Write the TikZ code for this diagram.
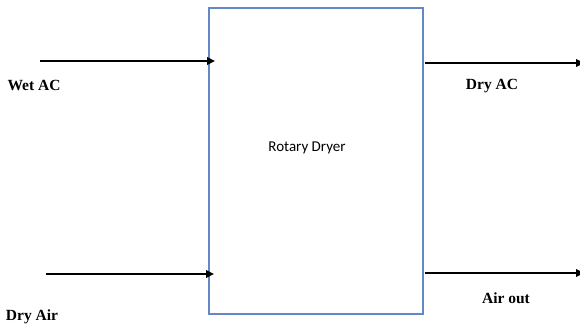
\documentclass[tikz,border=0pt]{standalone}
\usepackage{fontspec}
\setmainfont{Liberation Serif}
\newfontfamily\carlito{Carlito}
\usetikzlibrary{arrows.meta}
\definecolor{boxblue}{RGB}{100,135,200}
\begin{document}
\begin{tikzpicture}[x=1pt,y=-1pt,
  flow/.style={line width=2.8pt,-{Triangle[length=8pt,width=7.5pt]}},
  lab/.style={font=\bfseries\fontsize{15.5}{18}\selectfont, inner sep=0pt}]
\useasboundingbox (0,0) rectangle (580,326);
\node[draw=boxblue, line width=1.6pt, minimum width=214pt, minimum height=306pt,
      anchor=north west, inner sep=0pt] (dryer) at (208,7) {};
\node[font=\carlito\fontsize{15}{18}\selectfont, inner sep=0pt] (title) at (307,148) {Rotary Dryer};
% inputs
\coordinate (wetin) at (40,61);
\coordinate (airin) at (46,274);
\draw[flow, shorten >=-7pt] (wetin) -- (wetin -| dryer.west);
\draw[flow, shorten >=-6pt] (airin) -- (airin -| dryer.west);
% outputs
\coordinate (dryout) at (584,63);
\coordinate (airout) at (584,273);
\draw[flow, shorten <=1pt] (dryout -| dryer.east) -- (dryout);
\draw[flow, shorten <=1pt] (airout -| dryer.east) -- (airout);
% labels
\node[lab] (lwet) at (34,85) {Wet AC};
\node[lab] (ldryair) at (32,317) {Dry Air};
\node[lab] (ldryac) at (492,86) {Dry AC};
\node[lab] (lairout) at (506,298) {Air out};
\end{tikzpicture}
\end{document}
